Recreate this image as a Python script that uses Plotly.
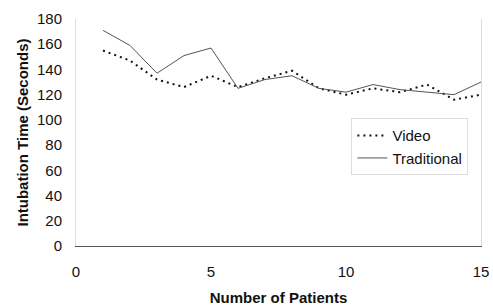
import plotly.graph_objects as go

patients = list(range(1, 16))
video = [155, 147, 132, 126, 135, 126, 133, 139, 125, 120, 125, 122, 128, 116, 120]
traditional = [171, 159, 137, 151, 157, 125, 132, 135, 125, 122, 128, 124, 122, 120, 130]

fig = go.Figure()
fig.add_trace(go.Scatter(x=patients, y=video, mode="lines", name="Video",
                         line=dict(color="#111111", width=2, dash="2px,4px")))
fig.add_trace(go.Scatter(x=patients, y=traditional, mode="lines", name="Traditional",
                         line=dict(color="#555555", width=1)))

font_family = "Liberation Sans, Arial, sans-serif"
fig.update_layout(
    width=493, height=306,
    margin=dict(l=76, r=12, t=19, b=60, autoexpand=False),
    plot_bgcolor="white", paper_bgcolor="white",
    font=dict(family=font_family, size=15, color="#111111"),
    showlegend=True,
    legend=dict(x=0.68, y=0.563, xanchor="left", yanchor="top",
                bgcolor="rgba(0,0,0,0)", bordercolor="#dddddd", borderwidth=1,
                font=dict(size=15), tracegroupgap=0, itemwidth=30),
    xaxis=dict(range=[0, 15], tickvals=[0, 5, 10, 15], showgrid=False, automargin=False,
               zeroline=False, showline=True, linecolor="#555555", linewidth=1,
               ticks="", ticklabelstandoff=12,
               title=dict(text="<b>Number of Patients</b>", font=dict(size=15), standoff=16)),
    yaxis=dict(range=[0, 180], tickvals=list(range(0, 181, 20)), showgrid=False, automargin=False,
               zeroline=False, showline=True, linecolor="#dddddd", linewidth=1,
               mirror=True, ticks="", ticklabelstandoff=10,
               title=dict(text="<b>Intubation Time (Seconds)</b>", font=dict(size=15), standoff=4)),
)

fig.write_html("out.html", config={"displayModeBar": False},
               post_script="document.body.style.margin='0';")
